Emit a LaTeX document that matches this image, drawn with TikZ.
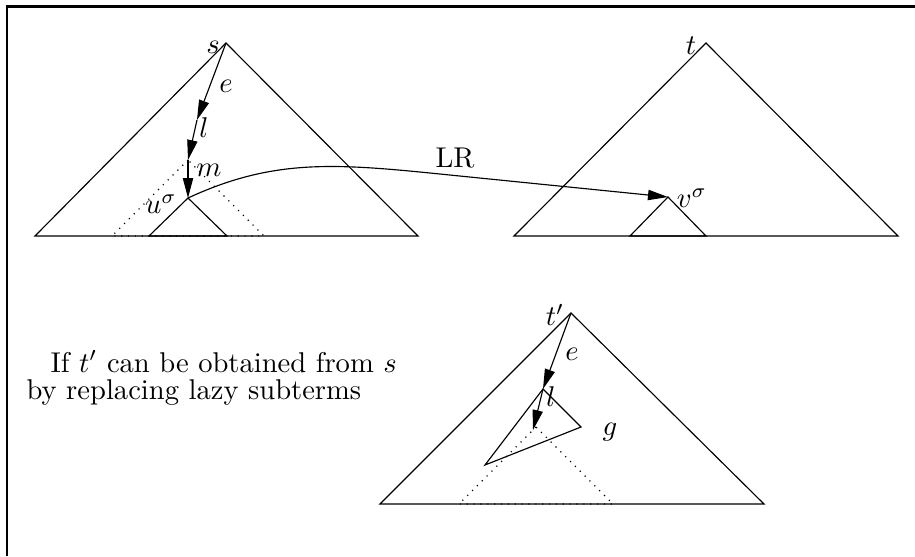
\documentclass[tikz,border=0pt]{standalone}
\usepackage{tikz}
\usetikzlibrary{arrows.meta,positioning,calc}
\tikzset{%
  tree/.style={draw},
  lazy/.style={draw,dotted},
  arrow/.style={-{Triangle[length=7pt,width=3.6pt]}},
  lbl/.style={inner sep=0pt},
  frame/.style={line width=1pt}%
}

\begin{document}
\begin{tikzpicture}[x=0.0123cm,y=-0.0123cm]
\useasboundingbox (0,0) rectangle (915,556);

% Frame (top and left sides)
\draw[frame] (7,556) -- (7,6.5) -- (915,6.5);

% Left term s
\coordinate (s) at (226,43);
\coordinate (sL) at (35,236);
\coordinate (sR) at (418,236);
\draw[tree] (sL) -- (s) -- (sR) -- cycle;
\coordinate (p1) at (197,120);
\coordinate (p2) at (188,160);
\coordinate (u) at (188,198);
\draw[lazy] (p2) -- (112,236) -- (264,236) -- cycle;
\draw[tree] (u) -- (149,236) -- (227,236) -- cycle;
\draw[arrow] (s) -- (p1);
\draw[arrow] (p1) -- (p2);
\draw[arrow] (p2) -- (u);
\node[lbl] (slbl) at (213,47) {$s$};
\node[lbl] (elbl) at (226,86) {$e$};
\node[lbl] (llbl) at (204,128) {$l$};
\node[lbl] (mlbl) at (209,170) {$m$};
\node[lbl] (ulbl) at (161,204) {$u^\sigma$};

% Right term t
\coordinate (t) at (706,43);
\coordinate (tL) at (514,236);
\coordinate (tR) at (898,236);
\draw[tree] (tL) -- (t) -- (tR) -- cycle;
\coordinate (v) at (668,197);
\draw[tree] (v) -- (630,236) -- (706,236) -- cycle;
\node[lbl] (tlbl) at (691,46) {$t$};
\node[lbl] (vlbl) at (692,198) {$v^\sigma$};

% LR connection
\draw[arrow] (u) .. controls (270,160) and (330,163) .. (430,173) -- (v);
\node[lbl] (lr) at (455,158) {LR};

% Explanation
\node[lbl,anchor=base west] (txt1) at (50,372) {If $t'$ can be obtained from $s$};
\node[lbl,anchor=base west] (txt2) at (26,399) {by replacing lazy subterms};

% Bottom term t'
\coordinate (tp) at (571,313);
\coordinate (tpL) at (380,504);
\coordinate (tpR) at (764,504);
\draw[tree] (tpL) -- (tp) -- (tpR) -- cycle;
\coordinate (q1) at (543,389);
\coordinate (q2) at (533,430);
\draw[lazy] (536,427) -- (459,504) -- (613,504) -- cycle;
\draw[tree] (q1) -- (581,427) -- (485,465) -- cycle;
\draw[arrow] (tp) -- (q1);
\draw[arrow] (q1) -- (q2);
\node[lbl] (tplbl) at (555,315) {$t'$};
\node[lbl] (e2lbl) at (572,354) {$e$};
\node[lbl] (l2lbl) at (551,397) {$l$};
\node[lbl] (glbl) at (610,432) {$g$};

\end{tikzpicture}
\end{document}
